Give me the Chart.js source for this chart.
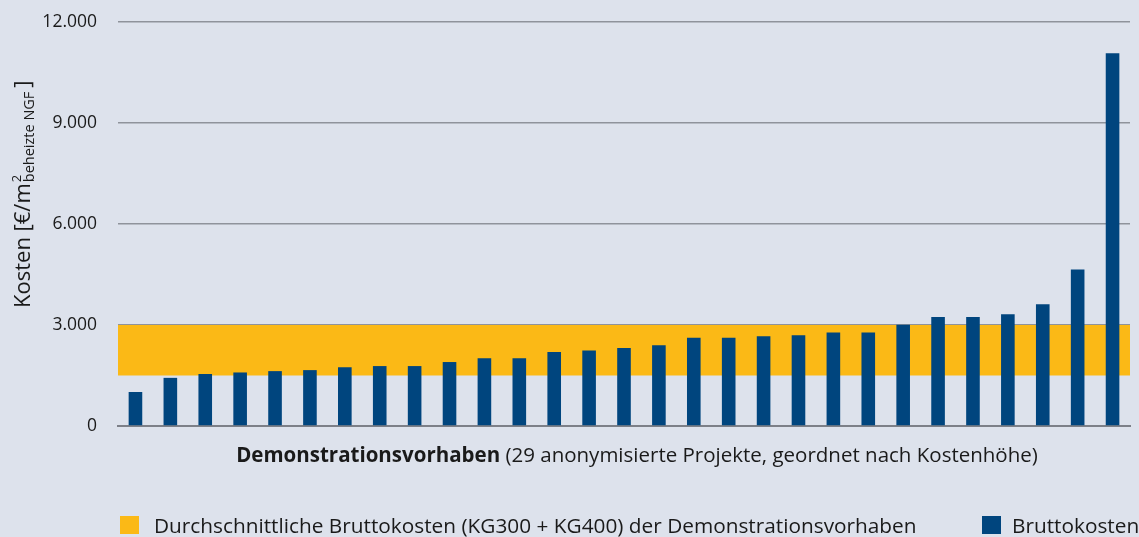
<!DOCTYPE html>
<html lang="de">
<head>
<meta charset="utf-8">
<title>Bruttokosten der Demonstrationsvorhaben</title>
<script src="https://cdn.jsdelivr.net/npm/chart.js@4"></script>
<style>
  html, body { margin: 0; padding: 0; background: #dde2ec; overflow: hidden; }
  #chart-kosten { display: block; }
</style>
</head>
<body>
<canvas id="chart-kosten" width="1139" height="537"></canvas>
<script>
// ==================================================
// DATA
// ==================================================
// 29 Projekte, sortiert nach Kostenhöhe
const projekte = [
  "P1", "P2", "P3", "P4", "P5", "P6", "P7", "P8", "P9", "P10",
  "P11", "P12", "P13", "P14", "P15", "P16", "P17", "P18", "P19", "P20",
  "P21", "P22", "P23", "P24", "P25", "P26", "P27", "P28", "P29",
];
// Bruttokosten in €/m² beheizte NGF
const bruttokosten = [
  1010, 1430, 1545, 1590, 1630, 1660, 1745, 1780, 1780, 1900,
  2010, 2010, 2200, 2240, 2315, 2395, 2620, 2620, 2665, 2695,
  2780, 2780, 3010, 3235, 3235, 3320, 3620, 4650, 11070,
];
// Bandbreite der durchschnittlichen Bruttokosten (KG300 + KG400)
const durchschnittVon = 1500;
const durchschnittBis = 3000;

const yTickWerte = [0, 3000, 6000, 9000, 12000];
const yTickLabels = ["0", "3.000", "6.000", "9.000", "12.000"];

const xTitelFett = "Demonstrationsvorhaben";
const xTitelRest = " (29 anonymisierte Projekte, geordnet nach Kostenhöhe)";
const legendeBand = "Durchschnittliche Bruttokosten (KG300 + KG400) der Demonstrationsvorhaben";
const legendeBalken = "Bruttokosten";

const BLAU = "#00457e";
const ORANGE = "#fbb916";
const TEXT = "#1a1a1a";
const FONT = "'Open Sans', 'Noto Sans', sans-serif";

// ==================================================
// PLUGINS
// ==================================================
// orange band behind the bars
const bandPlugin = {
  id: "durchschnittBand",
  beforeDatasetsDraw(chart) {
    const { ctx, chartArea, scales } = chart;
    const yTop = scales.y.getPixelForValue(durchschnittBis);
    const yBottom = scales.y.getPixelForValue(durchschnittVon);
    ctx.save();
    ctx.fillStyle = ORANGE;
    ctx.fillRect(chartArea.left, yTop, chartArea.right - chartArea.left, yBottom - yTop);
    ctx.restore();
  },
};

// axis titles (with sub/superscript and mixed weights) and the legend
const beschriftungPlugin = {
  id: "beschriftung",
  afterDraw(chart) {
    const { ctx, chartArea } = chart;
    ctx.save();
    ctx.fillStyle = TEXT;
    ctx.textBaseline = "alphabetic";

    // y axis title, rotated
    ctx.save();
    ctx.translate(30, 308);
    ctx.rotate(-Math.PI / 2);
    let x = 0;
    ctx.font = "22px " + FONT;
    ctx.fillText("Kosten [€/m", x, 0);
    x += ctx.measureText("Kosten [€/m").width + 1;
    ctx.font = "13px " + FONT;
    ctx.fillText("2", x, -9);
    ctx.font = "14.5px " + FONT;
    ctx.fillText("beheizte NGF", x, 4);
    x += ctx.measureText("beheizte NGF").width + 4;
    ctx.font = "22px " + FONT;
    ctx.fillText("]", x, 0);
    ctx.restore();

    // x axis title
    ctx.font = "bold 20.5px " + FONT;
    const wFett = ctx.measureText(xTitelFett).width;
    ctx.font = "20.5px " + FONT;
    const wRest = ctx.measureText(xTitelRest).width;
    const mitte = (chartArea.left + chartArea.right) / 2 + 13;
    const start = mitte - (wFett + wRest) / 2;
    ctx.font = "bold 20.5px " + FONT;
    ctx.fillText(xTitelFett, start, 462);
    ctx.font = "20.5px " + FONT;
    ctx.fillText(xTitelRest, start + wFett, 462);

    // legend
    ctx.fillStyle = ORANGE;
    ctx.fillRect(120, 516, 19, 18);
    ctx.fillStyle = BLAU;
    ctx.fillRect(982, 516, 19, 18);
    ctx.fillStyle = TEXT;
    ctx.font = "20.8px " + FONT;
    ctx.fillText(legendeBand, 154, 533);
    ctx.fillText(legendeBalken, 1012, 533);
    ctx.restore();
  },
};

// ==================================================
// CHART
// ==================================================
const ctx = document.getElementById("chart-kosten").getContext("2d");

const kostenChart = new Chart(ctx, {
  type: "bar",
  data: {
    labels: projekte,
    datasets: [
      {
        label: legendeBalken,
        data: bruttokosten,
        backgroundColor: BLAU,
        borderWidth: 0,
        categoryPercentage: 1,
        barPercentage: 0.39,
      },
    ],
  },
  options: {
    responsive: false,
    animation: false,
    layout: { padding: { top: 22, right: 9, left: 0, bottom: 0 } },
    plugins: {
      legend: { display: false },
      tooltip: { enabled: false },
    },
    scales: {
      x: {
        ticks: { display: false },
        grid: { display: false, drawTicks: false },
        border: { display: true, color: "#7d8088", width: 2 },
        afterFit(scale) {
          scale.height = 111;
        },
      },
      y: {
        min: 0,
        max: 12000,
        afterBuildTicks(scale) {
          scale.ticks = yTickWerte.map((v) => ({ value: v }));
        },
        ticks: {
          padding: 21,
          color: TEXT,
          font: { family: FONT, size: 17.5 },
          callback: function (value) {
            const i = yTickWerte.indexOf(value);
            return i >= 0 ? yTickLabels[i] : "";
          },
        },
        grid: { color: "#8f939b", lineWidth: 1.5, drawTicks: false },
        border: { display: false },
        afterFit(scale) {
          scale.width = 118;
          // top label may overhang; the layout padding already leaves room
          scale.paddingTop = 0;
          scale.paddingBottom = 0;
        },
      },
    },
  },
  plugins: [bandPlugin, beschriftungPlugin],
});
</script>
</body>
</html>
